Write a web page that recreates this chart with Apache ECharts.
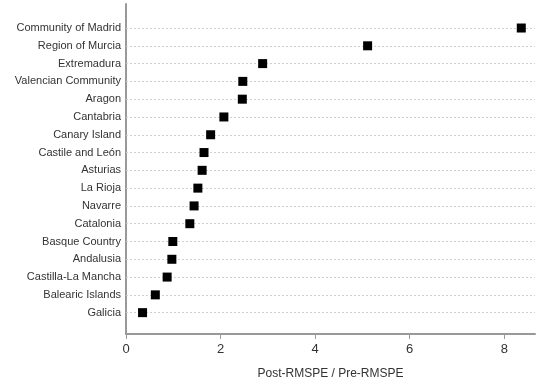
<!DOCTYPE html>
<html><head><meta charset="utf-8">
<script src="https://cdn.jsdelivr.net/npm/echarts@6/dist/echarts.min.js"></script>
<style>html,body{margin:0;padding:0;background:#fff}#c{width:539px;height:380px}</style>
</head><body><div id="c"></div>
<script>
// bottom to top
var regions = ["Galicia","Balearic Islands","Castilla-La Mancha","Andalusia","Basque Country","Catalonia","Navarre","La Rioja","Asturias","Castile and León","Canary Island","Cantabria","Aragon","Valencian Community","Extremadura","Region of Murcia","Community of Madrid"];
var ratios = [0.35,0.62,0.87,0.97,0.99,1.35,1.44,1.52,1.61,1.65,1.79,2.07,2.46,2.47,2.89,5.11,8.36];
var xTicks = [0,2,4,6,8];

var idx = regions.map(function(_, i){ return i; });
var chart = echarts.init(document.getElementById('c'), null, {renderer:'canvas'});
chart.setOption({
  animation:false,
  grid:{left:126,right:4,top:4,bottom:46,containLabel:false,outerBoundsMode:'none'},
  xAxis:{type:'value',min:0,max:8.65,
    name:'Post-RMSPE / Pre-RMSPE',nameLocation:'middle',nameGap:34,
    nameTextStyle:{fontFamily:'Liberation Sans',fontSize:12,color:'#333'},
    axisLine:{show:true,onZero:false,lineStyle:{color:'#999',width:2}},
    axisTick:{show:true,length:5,customValues:xTicks,lineStyle:{color:'#999'}},
    axisLabel:{customValues:xTicks,fontFamily:'Liberation Sans',fontSize:13,color:'#333',margin:9},
    splitLine:{show:false}},
  yAxis:{type:'value',min:-1.2,max:17.35,
    axisLine:{show:true,onZero:false,lineStyle:{color:'#999',width:2}},
    axisTick:{show:false},
    axisLabel:{customValues:idx,fontFamily:'Liberation Sans',fontSize:11,color:'#333',margin:5,
      formatter:function(v){ return regions[Math.round(v)] || ''; }},
    splitLine:{show:false}},
  series:[{type:'scatter',symbol:'rect',symbolSize:9,
    itemStyle:{color:'#000',opacity:1},
    data:ratios.map(function(v,i){ return [v,i]; }),
    z:5,
    markLine:{silent:true,symbol:'none',label:{show:false},
      lineStyle:{type:[2,2],color:'#d0d0d0',width:1},
      data:idx.map(function(i){ return {yAxis:i}; })}
  }]
});
</script></body></html>
